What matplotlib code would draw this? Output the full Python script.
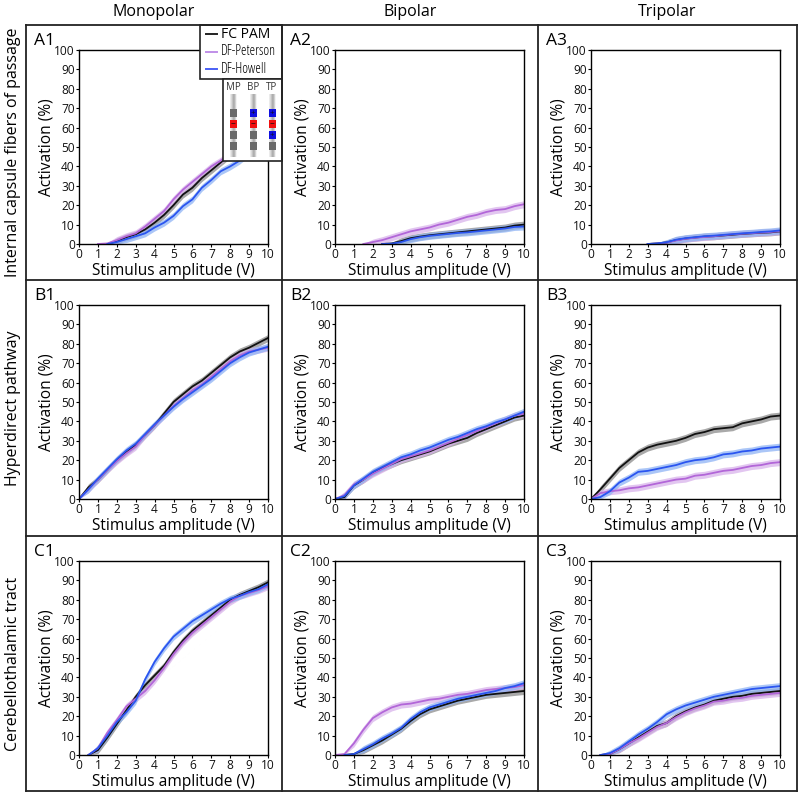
"""Activation curves, three montages by three pathways."""

import matplotlib
matplotlib.use("Agg")

import matplotlib.pyplot as plt
import numpy as np
from matplotlib.patches import Rectangle

plt.rcParams["font.family"] = ["Open Sans", "DejaVu Sans"]

AMPLITUDE = [0, .5, 1, 1.5, 2, 2.5, 3, 3.5, 4, 4.5, 5, 5.5, 6, 6.5, 7, 7.5, 8, 8.5, 9, 9.5, 10]

A1_FC = [0, 0, 0, 0, 1.5, 3.5, 5, 7.5, 11, 15, 20, 25.5, 29, 34, 38, 42, 46, 50, 54, 58, 62]
A1_PET = [0, 0, 0, .3, 2, 4, 5.5, 9, 13, 17, 23, 28, 32, 36, 40, 43, 47, 51, 55, 59, 63]
A1_HOW = [0, 0, 0, 0, 1, 2.5, 4, 5.5, 8.5, 11, 14.5, 19.5, 23, 29, 33, 37.5, 40, 43, 47, 50, 53]

A2_FC = [0, 0, 0, 0, 0, 0, .3, 1.5, 3, 3.8, 4.5, 5, 5.5, 6, 6.5, 7, 7.5, 8, 8.5, 9.5, 10]
A2_PET = [0, 0, 0, 0, 1, 2, 3.5, 5, 6.5, 7.5, 8.5, 10, 11, 12.5, 14, 15, 16.5, 17.5, 18, 19.5, 20.5]
A2_HOW = [0, 0, 0, 0, 0, 0, .2, 1, 2.5, 3.5, 4.2, 4.7, 5.2, 5.7, 6, 6.5, 7, 7.5, 8, 8.8, 9]

A3_FC = [0, 0, 0, 0, 0, 0, 0, .3, .8, 2, 2.8, 3.3, 3.8, 4, 4.4, 4.8, 5.2, 5.5, 5.8, 6, 6.5]
A3_PET = [0, 0, 0, 0, 0, 0, 0, .2, .7, 1.8, 2.7, 3.2, 3.6, 4, 4.5, 5, 5.3, 5.6, 5.9, 6.2, 6.6]
A3_HOW = [0, 0, 0, 0, 0, 0, 0, .3, .9, 2.2, 3, 3.5, 4, 4.3, 4.7, 5.1, 5.5, 5.8, 6.2, 6.5, 7]

B1_FC = [0, 6, 10, 15, 20, 24, 28, 33, 38, 44, 50, 54, 58, 61, 65, 69, 73, 76, 78, 80.5, 83]
B1_PET = [0, 5, 10, 15, 19.5, 23.5, 27, 33, 38, 43, 48, 52, 56, 59, 63, 67, 71, 74, 76, 77, 78]
B1_HOW = [0, 5, 10.5, 15.5, 20.5, 25, 28.5, 33.5, 38.5, 43, 47.5, 51.5, 55, 58.5, 62, 66, 70, 73, 75.5, 77, 78.5]

B2_FC = [0, 1, 7, 10, 13.5, 16, 18, 20, 21.5, 23, 24.5, 26.5, 28.5, 30, 31.5, 34, 36, 38, 40, 42, 43]
B2_PET = [0, 2, 7.5, 10, 13, 15.5, 18, 20.5, 22, 23.5, 25, 27, 29, 31, 33, 35, 37, 39, 41, 43, 44]
B2_HOW = [0, 1.5, 7, 10.5, 14, 16.5, 19, 21.5, 23, 25, 26.5, 28.5, 30.5, 32, 34, 36, 37.5, 39.5, 41, 43, 45]

B3_FC = [0, 5, 10.5, 16, 20, 24, 26.5, 28, 29, 30, 31.5, 33.5, 34.5, 36, 36.5, 37, 39, 40, 41, 42.5, 43]
B3_PET = [0, 3, 4, 4.5, 5.5, 6, 7, 8, 9, 10, 10.5, 12, 12.5, 13.5, 14.5, 15, 16, 17, 17.5, 18.5, 19]
B3_HOW = [0, 1, 4, 8.5, 11, 14, 14.5, 15.5, 16.5, 17.5, 19, 20, 20.5, 21.5, 23, 23.5, 24.5, 25, 26, 26.5, 27]

C1_FC = [0, 0, 2.5, 9, 16, 23, 30, 36, 41, 46, 53, 59, 64, 68, 72, 76, 80, 82.5, 84.5, 86.5, 89]
C1_PET = [0, 0, 3.5, 11.5, 18, 25, 29, 33, 38.5, 45, 52, 58, 63, 67, 71, 75, 79, 82, 83.5, 85, 87]
C1_HOW = [0, 0, 3.5, 10, 17, 22, 28, 39, 48, 55, 61, 65, 69, 72, 75, 78, 80.5, 82, 84, 85.5, 88]

C2_FC = [0, 0, .5, 2.5, 5, 7.5, 10.5, 13.5, 17.5, 21, 23.5, 25, 26.5, 28, 29, 30, 31, 31.5, 32, 32.5, 33]
C2_PET = [0, .5, 6, 13, 19, 22, 24.5, 26, 26.5, 27.5, 28.5, 29, 30, 31, 31.5, 32.5, 33.5, 34, 34.5, 35, 36]
C2_HOW = [0, 0, .5, 3, 5.5, 8.5, 11, 14, 18.5, 22, 24.5, 26, 27.5, 29, 30, 31, 32, 33, 34.5, 35.5, 37]

C3_FC = [0, 0, .5, 3, 6, 9, 12, 15, 16.5, 20, 22.5, 24.5, 26, 28, 29, 30, 30.5, 31.5, 32, 32.5, 33]
C3_PET = [0, 0, .5, 3, 6, 8.5, 11.5, 14.5, 16.5, 19.5, 22, 24, 25.5, 27.5, 28, 29, 29.5, 30.5, 31, 31.5, 32]
C3_HOW = [0, 0, 1, 3.5, 7, 10.5, 13.5, 17, 21, 23.5, 25.5, 27, 28.5, 30, 31, 32, 33, 34, 34.5, 35, 35.5]

PANELS = {
    "A1": (A1_FC, A1_PET, A1_HOW),
    "A2": (A2_FC, A2_PET, A2_HOW),
    "A3": (A3_FC, A3_PET, A3_HOW),
    "B1": (B1_FC, B1_PET, B1_HOW),
    "B2": (B2_FC, B2_PET, B2_HOW),
    "B3": (B3_FC, B3_PET, B3_HOW),
    "C1": (C1_FC, C1_PET, C1_HOW),
    "C2": (C2_FC, C2_PET, C2_HOW),
    "C3": (C3_FC, C3_PET, C3_HOW),
}
COLUMNS = ["Monopolar", "Bipolar", "Tripolar"]
ROWS = ["Internal capsule fibers of passage", "Hyperdirect pathway", "Cerebellothalamic tract"]
NAMES = ["FC PAM", "DF-Peterson", "DF-Howell"]
COLORS = ["#111111", "#B266D8", "#2A55F0"]
BANDS = ["#8C8C8C", "#D9B3EC", "#8FB4F5"]
LEGEND_COLORS = ["#222222", "#C08FE8", "#4A60F5"]
LEGEND_STYLE = [("normal", 10), ("condensed", 10), ("condensed", 10)]
MONTAGES = ["MP", "BP", "TP"]

W, H = 800, 797
AX_LEFT = [79, 335, 591]
AX_TOP = [50, 305, 561]
AX_W, AX_H = 189, 194
FRAME_X = [26, 282, 538, 797]
FRAME_Y = [25, 280, 536, 791]

fig = plt.figure(figsize=(W / 100, H / 100), dpi=100)

for i, (name, series) in enumerate(PANELS.items()):
    row, col = i // 3, i % 3
    ax = fig.add_axes([AX_LEFT[col] / W, 1 - (AX_TOP[row] + AX_H) / H, AX_W / W, AX_H / H])
    x = np.array(AMPLITUDE)
    for vals, c, b in zip(series, COLORS, BANDS):
        vals = np.array(vals, dtype=float)
        # curve starts at the last zero before it lifts off
        start = max(np.argmax(vals > 0) - 1, 0)
        xs, ys = x[start:], vals[start:]
        half = np.minimum(1.8, ys * 1.5)
        ax.fill_between(xs, np.clip(ys - half, 0, None), ys + half, color=b, alpha=0.75, linewidth=0)
        ax.plot(xs, ys, color=c, linewidth=1.3)
    ax.set_xlim(0, 10)
    ax.set_ylim(0, 100)
    ax.set_xticks(range(0, 11))
    ax.set_yticks(range(0, 101, 10))
    ax.tick_params(labelsize=8.6, length=2, width=0.8, pad=1, labelcolor="#111111")
    ax.set_xlabel("Stimulus amplitude (V)", fontsize=11.2, labelpad=1.5)
    ax.set_ylabel("Activation (%)", fontsize=11.2, labelpad=0)
    for s in ax.spines.values():
        s.set_linewidth(1.0)
    fig.text((AX_LEFT[col] - 45) / W, 1 - (AX_TOP[row] - 9) / H, name, fontsize=12.5, va="center")

# overlay in pixel coordinates: frames, headers, legend and the electrode inset
ov = fig.add_axes([0, 0, 1, 1], zorder=5)
ov.set_xlim(0, W)
ov.set_ylim(H, 0)
ov.axis("off")
ov.patch.set_alpha(0)

for fx in FRAME_X:
    ov.plot([fx, fx], [FRAME_Y[0], FRAME_Y[-1]], color="#222222", linewidth=1.3)
for fy in FRAME_Y:
    ov.plot([FRAME_X[0], FRAME_X[-1]], [fy, fy], color="#222222", linewidth=1.3)

for label, fx0, fx1 in zip(COLUMNS, FRAME_X[:-1], FRAME_X[1:]):
    ov.text((fx0 + fx1) / 2, 12, label, fontsize=11.5, ha="center", va="center")
for label, fy0, fy1 in zip(ROWS, FRAME_Y[:-1], FRAME_Y[1:]):
    ov.text(13, (fy0 + fy1) / 2, label, fontsize=11.5, rotation=90, ha="center", va="center")

# legend box
ov.add_patch(Rectangle((200, 25), 82, 54, facecolor="white", edgecolor="#222222", linewidth=1.2))
for k, (label, c, (stretch, size)) in enumerate(zip(NAMES, LEGEND_COLORS, LEGEND_STYLE)):
    yy = 34 + k * 17.5
    ov.plot([206, 217], [yy, yy], color=c, linewidth=1.4)
    ov.text(221, yy, label, fontsize=size, va="center", stretch=stretch)

# electrode inset
ov.add_patch(Rectangle((223, 79), 59, 82, facecolor="white", edgecolor="#222222", linewidth=1.2))
shaft = np.array([[.92, .8, .68, .72, .95]])
contact = np.array([[.5, .4, .35, .4, .5]])
CONTACT_Y = [109, 120, 131, 142]
MONTAGE_COLORS = [
    [None, "#F01010", None, None],
    ["#1010E0", "#F01010", None, None],
    ["#1010E0", "#F01010", "#1010E0", None],
]
MONTAGE_SIGNS = [
    [None, "\u2212", None, None],
    ["+", "\u2212", None, None],
    ["+", "\u2212", "+", None],
]
for cx, label, cols, signs in zip([233, 253, 272], MONTAGES, MONTAGE_COLORS, MONTAGE_SIGNS):
    ov.text(cx, 87, label, fontsize=7, ha="center", va="center", color="#333333")
    ov.imshow(shaft, extent=(cx - 3.5, cx + 3.5, 157, 94), cmap="gray", vmin=0, vmax=1,
              aspect="auto", interpolation="bilinear", zorder=3)
    for cy, cc, sign in zip(CONTACT_Y, cols, signs):
        if cc is None:
            ov.add_patch(Rectangle((cx - 3.5, cy), 7, 8, facecolor="#6A6A6A", edgecolor="none", zorder=4))
        else:
            ov.add_patch(Rectangle((cx - 3.5, cy), 7, 8, facecolor=cc, edgecolor="none", zorder=4))
            ov.text(cx, cy + 4, sign, fontsize=6, ha="center", va="center", color="#111111", zorder=5)
ov.set_xlim(0, W)
ov.set_ylim(H, 0)

fig.savefig("out.png", dpi=100)
